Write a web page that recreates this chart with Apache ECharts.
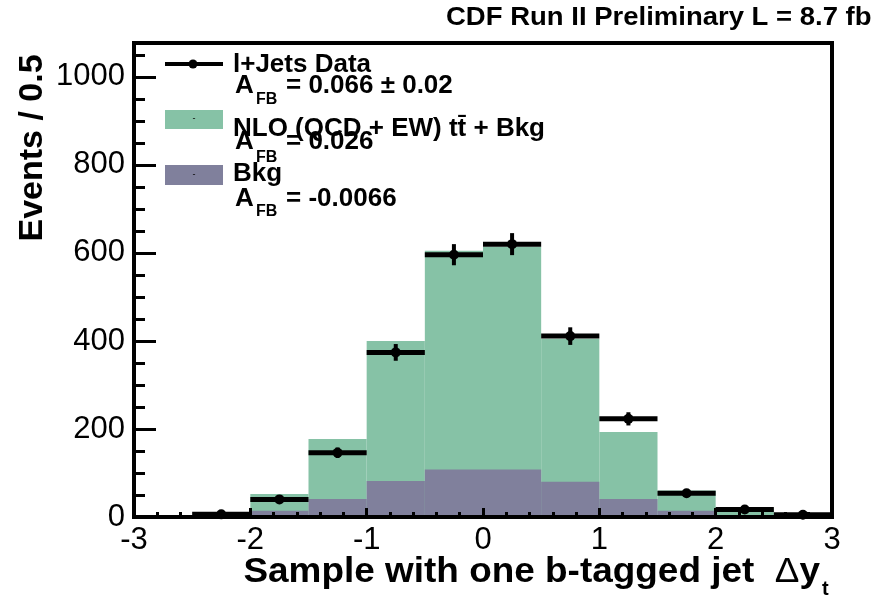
<!DOCTYPE html>
<html>
<head>
<meta charset="utf-8">
<script src="https://cdn.jsdelivr.net/npm/echarts@6/dist/echarts.min.js"></script>
<style>
  html, body { margin: 0; padding: 0; background: #fff; }
  #chart { width: 871px; height: 598px; }
</style>
</head>
<body>
<div id="chart"></div>
<script>
// Δy_t distribution, events per 0.5 bin
const binLow = [-3, -2.5, -2, -1.5, -1, -0.5, 0, 0.5, 1, 1.5, 2, 2.5];
const binWidth = 0.5;
// NLO (QCD + EW) ttbar + background, stacked total
const predTotal = [1, 3, 52, 177, 400, 605, 614, 405, 193, 60, 20, 2];
// background only
const bkgOnly = [1, 3, 14, 41, 82, 108, 108, 80, 41, 14, 4, 1];
// l+jets data and its statistical uncertainty (empty bins are not drawn)
const dataCounts = [0, 6, 40, 146, 374, 596, 620, 411, 223, 54, 17, 5];
const dataErrors = [0, 2.5, 6, 12, 19, 24, 25, 20, 15, 7, 4, 2];
const xTickLabels = ['-3', '-2', '-1', '0', '1', '2', '3'];
const yTickLabels = ['0', '200', '400', '600', '800', '1000'];

const FONT = "'Liberation Sans', Arial, Helvetica, sans-serif";
const GREEN = '#86c2a6';
const PURPLE = '#80809c';

const chart = echarts.init(document.getElementById('chart'), null, { renderer: 'canvas' });

function histSeries(name, values, color, z) {
  return {
    name: name,
    type: 'custom',
    z: z,
    data: binLow.map((lo, i) => [lo, lo + binWidth, values[i]]),
    encode: { x: [0, 1], y: 2 },
    renderItem: function (params, api) {
      const top = api.coord([api.value(0), api.value(2)]);
      const bot = api.coord([api.value(1), 0]);
      return {
        type: 'rect',
        shape: { x: top[0], y: top[1], width: bot[0] - top[0], height: bot[1] - top[1] },
        style: { fill: color }
      };
    }
  };
}

const dataSeries = {
  name: 'l+Jets Data',
  type: 'custom',
  z: 5,
  data: binLow.map((lo, i) => [lo, lo + binWidth, dataCounts[i], dataErrors[i]]),
  encode: { x: [0, 1], y: 2 },
  renderItem: function (params, api) {
    const x0 = api.value(0), x1 = api.value(1), v = api.value(2), e = api.value(3);
    if (!(v > 0)) return null;
    const xc = (x0 + x1) / 2;
    const left = api.coord([x0, v]);
    const right = api.coord([x1, v]);
    const hi = api.coord([xc, v + e]);
    const lo = api.coord([xc, v - e]);
    return {
      type: 'group',
      children: [
        { type: 'line', shape: { x1: left[0], y1: left[1], x2: right[0], y2: right[1] }, style: { stroke: '#000', lineWidth: 5 } },
        { type: 'line', shape: { x1: hi[0], y1: hi[1], x2: lo[0], y2: lo[1] }, style: { stroke: '#000', lineWidth: 4 } },
        { type: 'circle', shape: { cx: hi[0], cy: left[1], r: 5 }, style: { fill: '#000' } }
      ]
    };
  }
};

function txt(x, y, text, size, opts) {
  opts = opts || {};
  return {
    type: 'text',
    x: x, y: y,
    rotation: opts.rotation || 0,
    scaleX: opts.scaleX || 1,
    z: 20,
    style: {
      text: text,
      font: (opts.weight || 'bold') + ' ' + size + 'px ' + FONT,
      fill: '#000',
      align: opts.align || 'left',
      verticalAlign: 'middle'
    }
  };
}

// legend entries: text lines with A_FB subscripts
function afb(yA, ySub, value) {
  return [
    txt(235, yA, 'A', 26),
    txt(256, ySub, 'FB', 16),
    txt(286, yA, value, 26)
  ];
}

const graphics = [
  // header
  txt(446, 18, 'CDF Run II Preliminary L = 8.7 fb\u207B\u00B9', 25, { scaleX: 1.1 }),
  // y axis title
  txt(33, 148, 'Events / 0.5', 34, { rotation: Math.PI / 2, align: 'center' }),
  // x axis title
  {
    type: 'text', x: 820, y: 572, z: 20, scaleX: 1.055,
    style: {
      text: '{b|Sample with one b-tagged jet  }{d|\u0394}{b|y}',
      align: 'right', verticalAlign: 'middle',
      rich: {
        b: { font: 'bold 35px ' + FONT, fill: '#000' },
        d: { font: 'normal 35px ' + FONT, fill: '#000' }
      }
    }
  },
  txt(822, 589, 't', 20),
  // legend: data marker
  { type: 'line', z: 20, shape: { x1: 165, y1: 64, x2: 223, y2: 64 }, style: { stroke: '#000', lineWidth: 4 } },
  { type: 'circle', z: 21, shape: { cx: 193, cy: 64, r: 4.5 }, style: { fill: '#000' } },
  txt(233, 65, 'l+Jets Data', 26),
  ...afb(86, 100, '= 0.066 \u00B1 0.02'),
  // legend: prediction box
  { type: 'rect', z: 20, shape: { x: 165, y: 110, width: 58, height: 19 }, style: { fill: GREEN } },
  txt(194, 119, '-', 9, { weight: 'normal', align: 'center' }),
  txt(233, 129, 'NLO (QCD + EW) t\u0074\u0304 + Bkg', 26),
  ...afb(142, 158, '= 0.026'),
  // legend: background box
  { type: 'rect', z: 20, shape: { x: 165, y: 165, width: 58, height: 20 }, style: { fill: PURPLE } },
  txt(194, 175, '-', 9, { weight: 'normal', align: 'center' }),
  txt(233, 174, 'Bkg', 26),
  ...afb(199, 212, '= -0.0066')
];

const option = {
  animation: false,
  backgroundColor: '#fff',
  grid: {
    left: 134, right: 39, top: 43, bottom: 81,
    show: true, borderColor: '#000', borderWidth: 4, backgroundColor: 'transparent'
  },
  xAxis: {
    type: 'value', min: -3, max: 3, interval: 1, z: 10,
    axisLine: { onZero: false, lineStyle: { color: '#000', width: 4 } },
    axisTick: { inside: true, length: 9, lineStyle: { color: '#000', width: 3 } },
    minorTick: { show: true, splitNumber: 5, length: 5, lineStyle: { color: '#000', width: 3 } },
    splitLine: { show: false },
    axisLabel: {
      color: '#000', fontSize: 31, fontFamily: FONT, margin: 8,
      formatter: v => xTickLabels[Math.round(v + 3)]
    }
  },
  yAxis: [
    {
      type: 'value', min: 0, max: 1077, interval: 200, z: 10,
      axisLine: { onZero: false, lineStyle: { color: '#000', width: 4 } },
      axisTick: { inside: true, length: 22, lineStyle: { color: '#000', width: 3 } },
      splitLine: { show: false },
      axisLabel: {
        color: '#000', fontSize: 31, fontFamily: FONT, margin: 9, showMaxLabel: false,
        formatter: v => (v % 200 === 0 ? yTickLabels[v / 200] : '')
      }
    },
    {
      type: 'value', min: 0, max: 1077, interval: 50, position: 'left', z: 10,
      axisLine: { show: false, onZero: false },
      axisTick: { inside: true, length: 11, lineStyle: { color: '#000', width: 3 } },
      splitLine: { show: false },
      axisLabel: { show: false }
    }
  ],
  series: [
    histSeries('NLO (QCD + EW) ttbar + Bkg', predTotal, GREEN, 2),
    histSeries('Bkg', bkgOnly, PURPLE, 3),
    dataSeries
  ],
  graphic: graphics
};

chart.setOption(option);
</script>
</body>
</html>
